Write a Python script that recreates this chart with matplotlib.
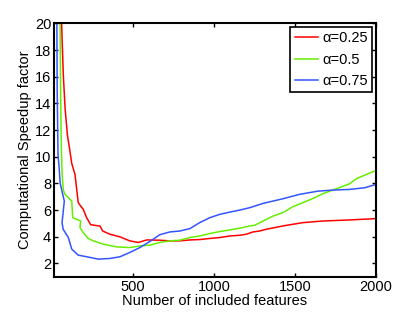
import matplotlib
matplotlib.use("Agg")
import matplotlib.pyplot as plt

plt.rcParams['font.family'] = ['Liberation Sans', 'DejaVu Sans']

red_x = [55, 60, 68, 79, 93, 109, 120, 140, 160, 175, 191, 212, 237, 295, 311, 356, 418, 479,
         531, 583, 664, 726, 788, 850, 911, 973, 1035, 1097, 1158, 1199, 1240, 1281, 1322,
         1425, 1549, 1672, 1837, 2000]
red_y = [21, 19, 16.1, 13.6, 11.65, 10.4, 9.5, 8.67, 6.56, 6.3, 6.06, 5.43, 4.9, 4.8, 4.43,
         4.19, 3.99, 3.69, 3.57, 3.76, 3.74, 3.69, 3.69, 3.76, 3.79, 3.87, 3.94, 4.06, 4.11,
         4.19, 4.36, 4.43, 4.56, 4.81, 5.06, 5.18, 5.26, 5.36]

green_x = [47, 48, 52, 56, 60, 68, 79, 120, 126, 175, 171, 191, 222, 253, 315, 398, 479, 541,
           603, 664, 726, 788, 850, 911, 973, 1035, 1097, 1158, 1220, 1251, 1302, 1364, 1425,
           1487, 1549, 1610, 1672, 1755, 1837, 1878, 1940, 2000]
green_y = [21, 20, 14, 10.5, 8.8, 7.5, 7.17, 6.68, 5.43, 5.18, 4.69, 4.31, 3.87, 3.69, 3.44,
           3.24, 3.19, 3.31, 3.37, 3.57, 3.69, 3.74, 3.94, 4.06, 4.24, 4.39, 4.51, 4.64, 4.81,
           4.86, 5.18, 5.55, 5.81, 6.26, 6.56, 6.87, 7.23, 7.6, 7.97, 8.35, 8.67, 8.97]

blue_x = [27, 28, 30, 35, 43, 48, 62, 74, 64, 60, 67, 99, 120, 160, 212, 284, 356, 418, 479,
          541, 603, 664, 726, 788, 850, 911, 973, 1035, 1097, 1158, 1220, 1302, 1425, 1528,
          1641, 1734, 1837, 1929, 2000]
blue_y = [21, 20, 15, 10.2, 9.0, 8.05, 7.3, 6.68, 5.5, 5.06, 4.56, 3.94, 3.07, 2.62, 2.5,
          2.32, 2.37, 2.5, 2.82, 3.19, 3.65, 4.15, 4.36, 4.43, 4.61, 5.06, 5.43, 5.68, 5.85,
          6.0, 6.18, 6.5, 6.85, 7.18, 7.42, 7.5, 7.55, 7.67, 7.92]

labels = ['α=0.25', 'α=0.5', 'α=0.75']
colors = ['#ff0000', '#66ee00', '#3355ff']

x_ticks = [500, 1000, 1500, 2000]
y_ticks = [2, 4, 6, 8, 10, 12, 14, 16, 18, 20]

fig = plt.figure(figsize=(4.15, 3.12), dpi=100)
ax = fig.add_axes([0.130, 0.113, 0.776, 0.812])

for xs, ys, lab, c in zip([red_x, green_x, blue_x], [red_y, green_y, blue_y], labels, colors):
    ax.plot(xs, ys, color=c, lw=1.1, label=lab)

ax.set_xlim(10, 2000)
ax.set_ylim(1, 20)
ax.set_xticks(x_ticks)
ax.set_yticks(y_ticks)
ax.tick_params(direction='in', length=3, width=1, labelsize=10.5, top=True, right=True, pad=2)
for s in ax.spines.values():
    s.set_linewidth(1.5)

ax.set_xlabel('Number of included features', fontsize=10.5, labelpad=0)
ax.set_ylabel('Computational Speedup factor', fontsize=10.5, labelpad=2)

leg = ax.legend(loc='upper right', fontsize=10.5, fancybox=False, framealpha=1,
                edgecolor='black', borderaxespad=0.25, handlelength=1.6,
                handletextpad=0.3, borderpad=0.3, labelspacing=0.5)
leg.get_frame().set_linewidth(1.2)

fig.savefig('out.png', dpi=100)
